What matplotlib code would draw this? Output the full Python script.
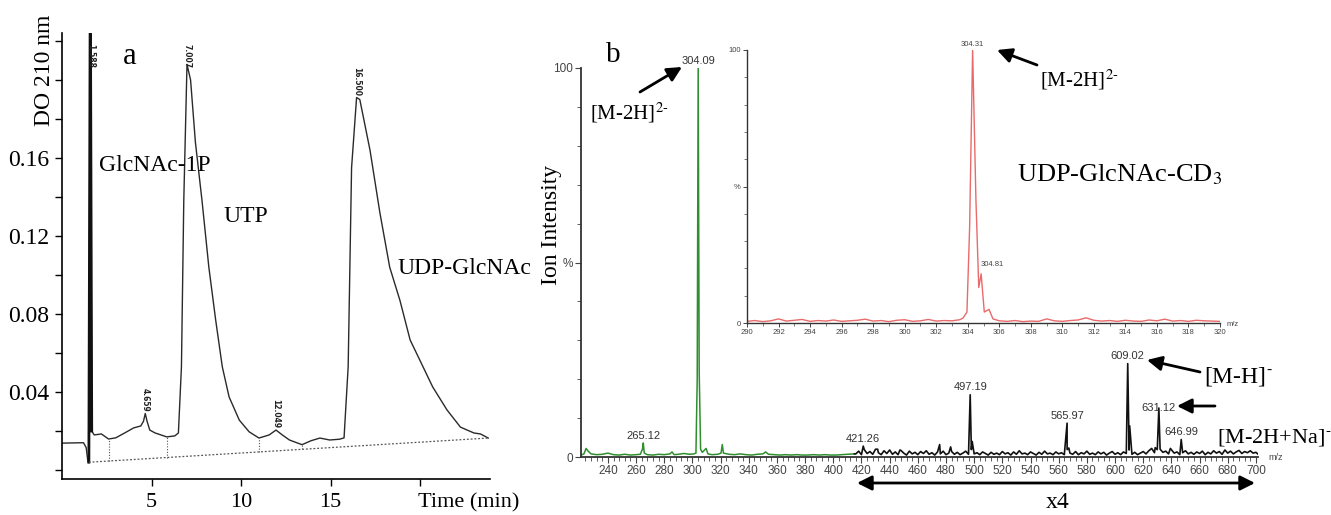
import numpy as np
import matplotlib
matplotlib.use("Agg")
import matplotlib.pyplot as plt
from matplotlib.patches import FancyArrowPatch
from matplotlib.ticker import MultipleLocator, FixedLocator

plt.rcParams["font.family"] = ["Liberation Serif", "DejaVu Serif"]
plt.rcParams["mathtext.fontset"] = "stix"

# --- panel a: HPLC trace (time in min, absorbance at 210 nm) ---
t_a = [0, 1.2, 1.35, 1.45, 1.5, 1.58, 1.66, 1.8, 2.2, 2.6, 3.0, 3.5, 4.0, 4.4,
       4.55, 4.65, 4.75, 4.9, 5.2, 5.85, 6.3, 6.5, 6.67, 6.8, 6.98, 7.18, 7.45,
       7.82, 8.2, 8.58, 8.95, 9.33, 9.9, 10.45, 11.0, 11.57, 11.95, 12.3, 12.7,
       13.4, 13.9, 14.4, 14.95, 15.5, 15.75, 15.98, 16.17, 16.45, 16.63, 17.2,
       17.75, 18.3, 18.87, 19.44, 20.0, 20.7, 21.5, 22.25, 23.0, 23.37, 23.8]
do_a = [0.0138, 0.0140, 0.0115, 0.004, 0.004, 0.26, 0.020, 0.018, 0.0185,
        0.0159, 0.0165, 0.019, 0.0216, 0.0226, 0.025, 0.029, 0.025, 0.0205,
        0.019, 0.017, 0.0175, 0.019, 0.053, 0.138, 0.208, 0.200, 0.168, 0.138,
        0.104, 0.077, 0.053, 0.0375, 0.0256, 0.0196, 0.0164, 0.018, 0.0205,
        0.018, 0.0154, 0.0130, 0.015, 0.0164, 0.0154, 0.0158, 0.0165, 0.053,
        0.155, 0.191, 0.190, 0.164, 0.132, 0.104, 0.087, 0.0667, 0.056, 0.0426,
        0.0308, 0.022, 0.019, 0.0185, 0.0164]
base_t = [1.5, 23.8]
base_do = [0.004, 0.0164]
drop_t = [2.6, 5.85, 11.0, 13.4]
peak_t = [1.58, 4.65, 6.98, 11.95, 16.45]
peak_names = ["1.588", "4.659", "7.007", "12.049", "16.500"]

# --- panel b: ESI-MS spectrum (m/z, relative intensity %) ---
green_mz = [221, 223, 224.5, 226, 228, 232, 236, 240, 244, 248, 252, 256, 260,
            263, 264.5, 265.12, 265.8, 268, 272, 276, 280, 284, 285.5, 287, 290,
            294, 298, 301, 302.5, 303.4, 304.09, 304.8, 305.8, 307, 309.7, 311,
            314, 318, 320.3, 321.2, 322, 326, 330, 334, 338, 342, 346, 350, 352,
            354, 358, 362, 366, 370, 374, 378, 382, 386, 390, 394, 398, 402, 406,
            410, 415]
green_int = [0.5, 0.8, 2.2, 1.5, 0.8, 0.6, 0.7, 1.0, 0.6, 0.5, 0.7, 0.5, 0.6,
             0.7, 2.0, 3.6, 1.0, 0.6, 0.5, 0.7, 0.6, 0.8, 1.3, 0.6, 0.7, 0.9,
             0.7, 0.8, 1.0, 20, 100, 22, 2.0, 1.2, 2.2, 0.8, 0.6, 0.7, 1.0, 3.2,
             1.0, 0.7, 0.6, 0.8, 0.6, 0.5, 0.7, 0.8, 1.3, 0.7, 0.6, 0.5, 0.6,
             0.5, 0.6, 0.5, 0.5, 0.6, 0.5, 0.6, 0.5, 0.5, 0.6, 0.7, 0.8]

black_base_mz = list(range(416, 703, 2))
black_base_int = [
    0.8, 1.5, 0.6, 1.9, 0.9, 1.4, 0.7, 2.0, 1.1, 0.6, 1.6, 0.9,
    1.8, 0.7, 1.3, 0.6, 1.7, 1.0, 0.5, 1.5, 0.8, 1.2, 0.6, 1.4,
    0.9, 1.6, 0.7, 1.1, 0.5, 1.3, 0.8, 1.5, 0.6, 1.0, 1.4, 0.7,
    1.2, 0.6, 1.0, 1.5, 0.7, 1.9, 0.8, 1.1, 0.6, 1.3, 0.9, 0.5,
    1.2, 0.7, 1.0, 0.6, 1.4, 0.8, 1.1, 0.5, 1.3, 0.7, 1.6, 0.8,
    1.0, 0.6, 1.3, 0.9, 0.5, 1.2, 0.7, 1.5, 0.8, 1.0, 0.6, 1.3,
    0.8, 1.1, 0.6, 1.9, 1.0, 0.7, 1.4, 0.6, 1.1, 0.8, 1.5, 0.7,
    1.0, 0.6, 1.3, 0.8, 1.2, 0.5, 1.0, 1.4, 0.7, 1.1, 0.6, 1.3,
    0.9, 1.8, 0.7, 1.2, 0.6, 1.0, 1.4, 0.8, 1.6, 2.2, 1.1, 1.9,
    2.0, 1.2, 1.5, 0.8, 1.9, 1.0, 1.3, 0.6, 1.1, 1.6, 0.8, 1.2,
    0.7, 1.3, 0.9, 1.5, 0.6, 1.2, 0.8, 1.6, 1.0, 1.4, 0.7, 1.8,
    1.0, 1.5, 0.8, 1.3, 1.7, 0.9, 1.4, 1.1, 1.6, 1.0, 1.2, 0.6]
black_peak_mz = [421.26, 431.5, 447.3, 475.5, 483.3, 497.19, 498.6, 565.97,
                 567.2, 609.02, 610.4, 628.5, 631.12, 639.3, 646.99]
black_peak_int = [2.8, 2.0, 1.8, 3.2, 2.6, 16, 4, 8.7, 2.3, 24, 8, 2.4, 12.6,
                  2.2, 4.5]
labelled_mz = [265.12, 304.09, 421.26, 497.19, 565.97, 609.02, 646.99]
labelled_int = [3.6, 100, 2.8, 16, 8.7, 24, 4.5]

# inset: zoom on the [M-2H]2- ion of UDP-GlcNAc-CD3
red_base_mz = [290 + 0.5 * i for i in range(28)] + [306 + 0.5 * i for i in range(29)]
red_base_int = [0.6, 0.9, 0.5, 0.8, 1.5, 0.7, 1.0, 1.3, 0.6, 0.9, 0.7, 1.1,
                0.6, 0.8, 1.0, 1.4, 0.7, 0.9, 0.5, 1.0, 1.2, 0.6, 0.8, 1.3,
                0.7, 0.9, 0.8, 1.2,
                0.8, 0.6, 0.9, 0.5, 0.7, 0.6, 1.5, 0.8, 0.6, 0.9, 1.1, 1.9,
                1.0, 0.7, 0.9, 0.6, 1.0, 0.7, 0.6, 1.1, 0.8, 1.4, 0.7, 0.9,
                0.6, 1.0, 0.8, 0.7, 0.6]
red_peak_mz = [303.7, 303.95, 304.12, 304.31, 304.52, 304.7, 304.85, 305.05, 305.35, 305.6]
red_peak_int = [1.8, 4.0, 35, 100, 45, 13, 18, 4, 5, 1.5]

W, H = 1331, 515
fig = plt.figure(figsize=(W / 100, H / 100), dpi=100)


def fp(x, y):
    return (x / W, 1 - y / H)


def box(l, t, r, b):
    return [l / W, 1 - b / H, (r - l) / W, (b - t) / H]


# ---------------- panel a ----------------
ax = fig.add_axes(box(62, 33, 490, 479))
t_arr = np.array(t_a)
do_arr = np.array(do_a)
ax.plot(t_arr, do_arr, color="#2a2a2a", lw=1.0)
sp = (t_arr > 1.45) & (t_arr < 1.7)
ax.plot(t_arr[sp], do_arr[sp], color="#111", lw=2.0)
ax.plot(base_t, base_do, color="#555", lw=0.9, ls=(0, (1.5, 1.5)))
for t in drop_t:
    top = np.interp(t, t_arr, do_arr)
    bot = np.interp(t, base_t, base_do)
    ax.plot([t, t], [bot, top], color="#555", lw=0.8, ls=(0, (1, 1.5)))
for t, name in zip(peak_t, peak_names):
    y = min(np.interp(t, t_arr, do_arr), 0.205)
    ax.text(t, y + 0.001, name, rotation=270, ha="center", va="bottom",
            fontsize=5.5, fontweight="bold", family="DejaVu Sans", color="#222",
            clip_on=False)
ax.set_xlim(0, 23.9)
ax.set_ylim(-0.0046, 0.2241)
for s in ["top", "right"]:
    ax.spines[s].set_visible(False)
for s in ["left", "bottom"]:
    ax.spines[s].set_linewidth(1.2)
ax.set_xticks([5, 10, 15, 20])
ax.set_xticklabels(["5", "10", "15", ""])
ax.yaxis.set_major_locator(FixedLocator([0.04, 0.08, 0.12, 0.16]))
ax.yaxis.set_major_formatter(plt.FuncFormatter(lambda v, p: f"{v:.2f}"))
ax.yaxis.set_minor_locator(MultipleLocator(0.02))
ax.tick_params(axis="both", which="both", direction="out", length=5, width=1,
               labelsize=17)
ax.tick_params(axis="x", pad=5, labelsize=16)
ax.tick_params(axis="y", pad=4)
fig.text(*fp(45, 70), "DO 210 nm", rotation=90, ha="center", va="center", fontsize=17)
fig.text(*fp(418, 503), "Time (min)", ha="left", va="center", fontsize=16)
fig.text(*fp(130, 57), "a", ha="center", va="center", fontsize=22)
fig.text(*fp(99, 165), "GlcNAc-1P", ha="left", va="center", fontsize=17)
fig.text(*fp(223, 217), "UTP", ha="left", va="center", fontsize=17)
fig.text(*fp(397, 268), "UDP-GlcNAc", ha="left", va="center", fontsize=17)

# ---------------- panel b ----------------
tick_grey = "#444"
bx = fig.add_axes(box(581, 68, 1258, 457))
bx.plot(green_mz, green_int, color="#2f8f2f", lw=1.1)
bmz = np.array(black_base_mz + black_peak_mz, dtype=float)
bint = np.array(black_base_int + black_peak_int, dtype=float)
order = np.argsort(bmz)
bmz = np.concatenate([[green_mz[-1]], bmz[order]])
bint = np.concatenate([[green_int[-1]], bint[order]])
bx.plot(bmz, bint, color="#111", lw=1.2)
for mz, h in zip(labelled_mz, labelled_int):
    bx.text(mz, h + 0.6, f"{mz:.2f}", ha="center", va="bottom", fontsize=8,
            family="Liberation Sans", color="#333", clip_on=False)
bx.text(631.12, 12.6, "631.12", ha="center", va="center", fontsize=8,
        family="Liberation Sans", color="#333")
bx.set_xlim(220.9, 701.5)
bx.set_ylim(0, 100)
for s in ["top", "right"]:
    bx.spines[s].set_visible(False)
for s in ["left", "bottom"]:
    bx.spines[s].set_color("#333")
    bx.spines[s].set_linewidth(1.3)
bx.xaxis.set_minor_locator(MultipleLocator(4))
bx.set_xticks(np.arange(240, 701, 20))
bx.yaxis.set_major_locator(FixedLocator([0, 50, 100]))
bx.set_yticklabels(["0", "%", "100"])
bx.yaxis.set_minor_locator(MultipleLocator(10))
bx.tick_params(axis="both", which="major", direction="out", length=4, width=0.8,
               labelsize=8.5, colors=tick_grey, pad=2)
bx.tick_params(axis="both", which="minor", direction="out", length=3, width=0.6,
               colors=tick_grey)
for lab in bx.get_xticklabels() + bx.get_yticklabels():
    lab.set_family("Liberation Sans")
fig.text(*fp(1268, 457), "m/z", fontsize=6.5, family="Liberation Sans",
         color=tick_grey, ha="left", va="center")

# inset
ix = fig.add_axes(box(747, 50, 1220, 323))
ix.patch.set_alpha(0)
rmz = np.array(red_base_mz + red_peak_mz)
rint = np.array(red_base_int + red_peak_int)
o = np.argsort(rmz)
ix.plot(rmz[o], rint[o], color="#e86a6a", lw=1.0)
ix.text(304.31, 100.8, "304.31", ha="center", va="bottom", fontsize=5.5,
        family="Liberation Sans", color="#444", clip_on=False)
ix.text(304.85, 20, "304.81", ha="left", va="bottom", fontsize=5.5,
        family="Liberation Sans", color="#444")
ix.set_xlim(290, 320)
ix.set_ylim(0, 100)
for s in ["top", "right"]:
    ix.spines[s].set_visible(False)
for s in ["left", "bottom"]:
    ix.spines[s].set_color("#333")
    ix.spines[s].set_linewidth(1.0)
ix.xaxis.set_major_locator(MultipleLocator(2))
ix.xaxis.set_minor_locator(MultipleLocator(1))
ix.yaxis.set_major_locator(FixedLocator([0, 50, 100]))
ix.set_yticklabels(["0", "%", "100"])
ix.yaxis.set_minor_locator(MultipleLocator(10))
ix.tick_params(axis="both", which="major", direction="out", length=3, width=0.7,
               labelsize=5.5, colors=tick_grey, pad=1.5)
ix.tick_params(axis="both", which="minor", direction="out", length=2, width=0.5,
               colors=tick_grey)
for lab in ix.get_xticklabels() + ix.get_yticklabels():
    lab.set_family("Liberation Sans")
fig.text(*fp(1227, 325), "m/z", fontsize=5.5, family="Liberation Sans",
         color=tick_grey, ha="left", va="center")

# annotations
fig.text(*fp(551, 225), "Ion Intensity", rotation=90, ha="center", va="center",
         fontsize=17)
fig.text(*fp(613, 55), "b", ha="center", va="center", fontsize=21)
fig.text(*fp(590, 113), r"[M-2H]$^{2\text{-}}$", ha="left", va="center", fontsize=15)
fig.text(*fp(1040, 80), r"[M-2H]$^{2\text{-}}$", ha="left", va="center", fontsize=15)
fig.text(*fp(1017, 175), r"UDP-GlcNAc-CD$_3$", ha="left", va="center", fontsize=19)
fig.text(*fp(1204, 377), r"[M-H]$^{\text{-}}$", ha="left", va="center", fontsize=17)
fig.text(*fp(1217, 437), r"[M-2H+Na]$^{\text{-}}$", ha="left", va="center", fontsize=16)
fig.text(*fp(1058, 503), "x4", ha="center", va="center", fontsize=17)

arrow = dict(arrowstyle="-|>", lw=2.0, color="k", mutation_scale=22,
             shrinkA=0, shrinkB=0)
for head, tail in [((682, 67), (640, 92)), ((997, 50), (1037, 65)),
                   ((1147, 360), (1200, 372)), ((1177, 406), (1215, 406))]:
    fig.add_artist(FancyArrowPatch(fp(*tail), fp(*head),
                                   transform=fig.transFigure, **arrow))
fig.add_artist(FancyArrowPatch(fp(857, 483), fp(1255, 483),
                               transform=fig.transFigure, arrowstyle="<|-|>",
                               lw=2.0, color="k", mutation_scale=22,
                               shrinkA=0, shrinkB=0))

fig.savefig("out.png", dpi=100)
